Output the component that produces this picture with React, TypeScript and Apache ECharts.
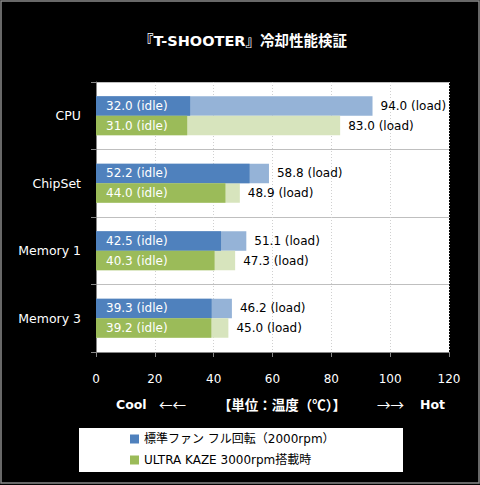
import React, { useEffect, useRef } from "react";
import * as echarts from "echarts";

const categories = ["CPU", "ChipSet", "Memory 1", "Memory 3"];
const stdIdle = [32.0, 52.2, 42.5, 39.3];
const stdLoad = [94.0, 58.8, 51.1, 46.2];
const ukIdle = [31.0, 44.0, 40.3, 39.2];
const ukLoad = [83.0, 48.9, 47.3, 45.0];
const xTicks = { min: 0, max: 120, interval: 20 };
const seriesNames = ["標準ファン フル回転（2000rpm）", "ULTRA KAZE 3000rpm搭載時"];
const titleText = "『T-SHOOTER』冷却性能検証";

const FONT = "'DejaVu Sans', 'Noto Sans CJK JP', sans-serif";
const CJK = "'Noto Sans CJK JP', sans-serif";

function axisTextStyle(t: any) {
  return {
    fill: t.color,
    fontSize: t.fontSize,
    fontWeight: t.fontWeight,
    fontFamily: t.fontFamily,
    verticalAlign: "middle",
  };
}

export default function App() {
  const ref = useRef<HTMLDivElement>(null);
  useEffect(() => {
    document.body.style.margin = "0";
    if (!ref.current) return;
    const chart = echarts.init(ref.current, null, { renderer: "svg" });
    const idleLabel = {
      show: true,
      position: "insideLeft",
      distance: 10,
      color: "#fff",
      fontSize: 12,
      fontFamily: FONT,
      formatter: (p: any) => Number(p.value).toFixed(1) + " (idle)",
    };
    const loadLabel = {
      show: true,
      position: "right",
      distance: 8,
      color: "#000",
      fontSize: 12,
      fontFamily: FONT,
      formatter: (p: any) => Number(p.value).toFixed(1) + " (load)",
    };
    const axisText = { color: "#fff", fontSize: 12.5, fontWeight: "bold", fontFamily: FONT };
    const axisTextCjk = { color: "#fff", fontSize: 13.5, fontWeight: "bold", fontFamily: CJK };
    chart.setOption({
      animation: false,
      backgroundColor: "#000",
      textStyle: { fontFamily: FONT },
      grid: {
        left: 96,
        right: 31,
        top: 82,
        bottom: 133,
        show: true,
        backgroundColor: "#fff",
        borderWidth: 0,
      },
      legend: {
        orient: "vertical",
        left: 130,
        top: 433,
        data: seriesNames,
        itemWidth: 9,
        itemHeight: 9,
        itemGap: 9,
        icon: "rect",
        padding: 0,
        textStyle: { color: "#000", fontSize: 12, fontFamily: FONT },
      },
      xAxis: {
        type: "value",
        min: xTicks.min,
        max: xTicks.max,
        interval: xTicks.interval,
        axisLine: { show: true, lineStyle: { color: "#868686" } },
        axisTick: { show: true, length: 5, lineStyle: { color: "#868686" } },
        axisLabel: { color: "#fff", fontSize: 12, margin: 21, fontFamily: FONT },
        splitLine: { show: true, lineStyle: { color: "#d0d0d0", type: [1, 2] } },
      },
      yAxis: [
        {
          type: "category",
          data: categories,
          inverse: true,
          axisLine: { show: true, lineStyle: { color: "#868686" } },
          axisTick: { show: true, length: 5, lineStyle: { color: "#868686" } },
          axisLabel: { color: "#fff", fontSize: 12.5, margin: 15, fontFamily: FONT },
          splitLine: { show: true, lineStyle: { color: "#bfbfbf" } },
        },
        {
          type: "category",
          data: categories,
          inverse: true,
          show: false,
        },
      ],
      series: [
        {
          name: "標準ファン (load)",
          type: "bar",
          yAxisIndex: 0,
          data: stdLoad,
          barGap: "0%",
          barCategoryGap: "42%",
          itemStyle: { color: "#95B3D7" },
          label: loadLabel,
          z: 2,
        },
        {
          name: "ULTRA KAZE (load)",
          type: "bar",
          yAxisIndex: 0,
          data: ukLoad,
          barGap: "0%",
          barCategoryGap: "42%",
          itemStyle: { color: "#D7E4BD" },
          label: loadLabel,
          z: 2,
        },
        {
          name: seriesNames[0],
          type: "bar",
          yAxisIndex: 1,
          data: stdIdle,
          barGap: "0%",
          barCategoryGap: "42%",
          itemStyle: { color: "#4F81BD" },
          label: idleLabel,
          z: 3,
        },
        {
          name: seriesNames[1],
          type: "bar",
          yAxisIndex: 1,
          data: ukIdle,
          barGap: "0%",
          barCategoryGap: "42%",
          itemStyle: { color: "#9BBB59" },
          label: idleLabel,
          z: 3,
        },
      ],
      graphic: [
        {
          type: "rect",
          shape: { x: 1, y: 1, width: 478, height: 482 },
          style: { fill: "none", stroke: "#8a8a8a", lineWidth: 1.5 },
          silent: true,
          z: 100,
        },
        {
          type: "text",
          x: 243,
          y: 41,
          style: {
            text: titleText,
            fill: "#fff",
            fontSize: 14.5,
            fontWeight: "bold",
            fontFamily: FONT,
            align: "center",
            verticalAlign: "middle",
          },
        },
        {
          type: "rect",
          shape: { x: 79, y: 428, width: 324, height: 44 },
          style: { fill: "#fff" },
          z: -1,
          silent: true,
        },
        { type: "text", x: 116, y: 404, style: { ...axisTextStyle(axisText), text: "Cool", align: "left" } },
        { type: "text", x: 159, y: 404, style: { ...axisTextStyle(axisTextCjk), fontWeight: "normal", text: "←←", align: "left" } },
        { type: "text", x: 282, y: 404, style: { ...axisTextStyle(axisTextCjk), text: "【単位：温度（℃）】", align: "center" } },
        { type: "text", x: 377, y: 404, style: { ...axisTextStyle(axisTextCjk), fontWeight: "normal", text: "→→", align: "left" } },
        { type: "text", x: 445, y: 404, style: { ...axisTextStyle(axisText), text: "Hot", align: "right" } },
      ],
    });
    return () => chart.dispose();
  }, []);
  return <div ref={ref} style={{ width: 480, height: 485 }} />;
}
